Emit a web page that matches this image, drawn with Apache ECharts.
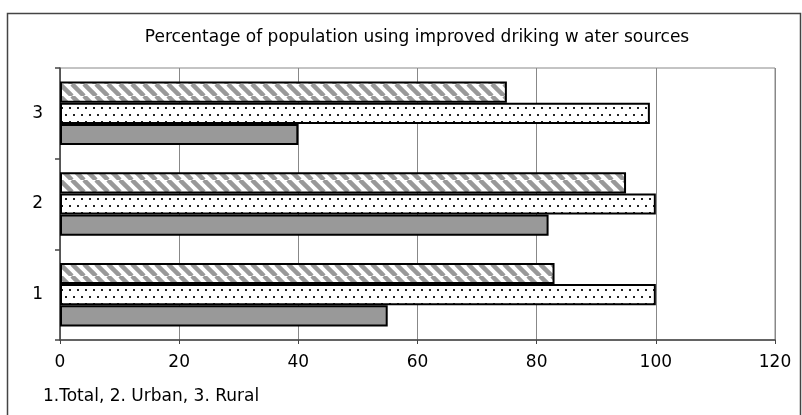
<!DOCTYPE html>
<html>
<head>
<meta charset="UTF-8">
<title>Improved drinking water</title>
<script src="https://cdn.jsdelivr.net/npm/echarts@6/dist/echarts.min.js"></script>
<style>
  html, body { margin: 0; padding: 0; background: #fff; }
</style>
</head>
<body>
	<div id="main" style="width: 802px; height: 415px;"></div>

	<script type="text/javascript">
		// data
		var categories = ['1', '2', '3'];
		var hatchedValues = [83, 95, 75];
		var dottedValues = [100, 100, 99];
		var solidValues = [55, 82, 40];
		var xTicks = [0, 20, 40, 60, 80, 100, 120];

		var titleText = 'Percentage of population using improved driking w ater sources';
		var noteText = '1.Total, 2. Urban, 3. Rural';
		var font = '"DejaVu Sans", "Liberation Sans", Arial, sans-serif';

		// fill patterns
		function hatchPattern() {
			var s = 12;
			var c = document.createElement('canvas');
			c.width = s; c.height = s;
			var ctx = c.getContext('2d');
			ctx.fillStyle = '#fff';
			ctx.fillRect(0, 0, s, s);
			ctx.strokeStyle = '#999';
			ctx.lineWidth = 4.5;
			[-s, 0, s].forEach(function (o) {
				ctx.beginPath();
				ctx.moveTo(o, 0);
				ctx.lineTo(o + s, s);
				ctx.stroke();
			});
			return c;
		}
		function dotPattern() {
			var c = document.createElement('canvas');
			c.width = 8; c.height = 14;
			var ctx = c.getContext('2d');
			ctx.fillStyle = '#fff';
			ctx.fillRect(0, 0, 8, 14);
			ctx.fillStyle = '#222';
			ctx.fillRect(1, 2, 2, 2);
			ctx.fillRect(5, 9, 2, 2);
			return c;
		}

		var myChart = echarts.init(document.getElementById('main'));
		myChart.setOption({
			animation: false,
			title: {
				text: titleText,
				left: 412,
				top: 24,
				textAlign: 'center',
				textStyle: { fontFamily: font, fontSize: 17, fontWeight: 'normal', color: '#000' }
			},
			graphic: [
				{
					type: 'rect',
					shape: { x: 7.5, y: 13.5, width: 793, height: 420 },
					style: { fill: 'none', stroke: '#444', lineWidth: 1.5 },
					z: -1
				},
				{
					type: 'text',
					left: 43,
					top: 388,
					style: { text: noteText, font: '17px ' + font, fill: '#000' }
				}
			],
			grid: {
				left: 60, right: 27, top: 68, bottom: 75,
				show: true, borderColor: '#888', borderWidth: 1
			},
			xAxis: {
				type: 'value',
				min: xTicks[0],
				max: xTicks[xTicks.length - 1],
				interval: xTicks[1] - xTicks[0],
				axisLine: { show: true, lineStyle: { color: '#444', width: 1.5 } },
				axisTick: { show: true, length: 4, lineStyle: { color: '#444' } },
				axisLabel: { margin: 14, fontFamily: font, fontSize: 17, color: '#000' },
				splitLine: { show: true, lineStyle: { color: '#888', width: 1 } }
			},
			yAxis: {
				type: 'category',
				data: categories,
				axisLine: { show: true, lineStyle: { color: '#444', width: 1.5 } },
				axisTick: { show: true, length: 5, lineStyle: { color: '#444', width: 1.5 } },
				axisLabel: { margin: 17, fontFamily: font, fontSize: 17, color: '#000' },
				splitLine: { show: false }
			},
			series: [
				{
					name: 'Hatched',
					type: 'bar',
					data: hatchedValues,
					barGap: '0%',
					barCategoryGap: '30%',
					itemStyle: { color: { image: hatchPattern(), repeat: 'repeat' }, borderColor: '#000', borderWidth: 2 }
				},
				{
					name: 'Dotted',
					type: 'bar',
					data: dottedValues,
					itemStyle: { color: { image: dotPattern(), repeat: 'repeat' }, borderColor: '#000', borderWidth: 2 }
				},
				{
					name: 'Solid',
					type: 'bar',
					data: solidValues,
					itemStyle: { color: '#999999', borderColor: '#000', borderWidth: 2 }
				}
			]
		});
	</script>
</body>
</html>
